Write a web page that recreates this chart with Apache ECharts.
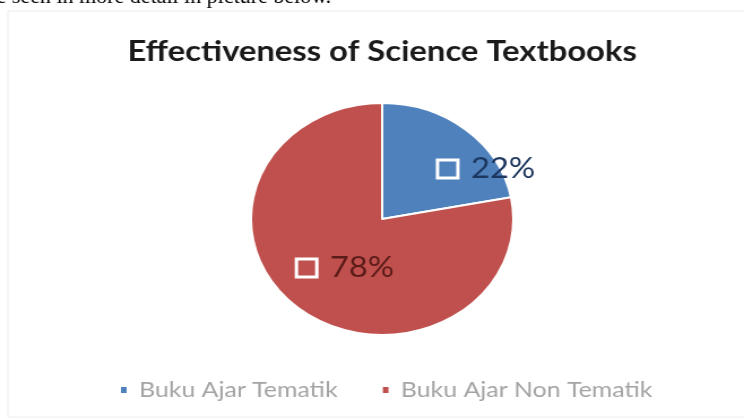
<!DOCTYPE html>
<html>
<head>
<meta charset="utf-8">
<script src="https://cdn.jsdelivr.net/npm/echarts@6/dist/echarts.min.js"></script>
<style>
html,body{margin:0;padding:0;background:#fff;}
#wrap{position:absolute;left:0;top:0;width:744px;height:419px;overflow:hidden;background:#fff;}
#c{width:658px;height:419px;transform:scaleX(1.130699);transform-origin:0 0;}
</style>
</head>
<body>
<div id="wrap"><div id="c"></div></div>
<script>
// ---- data ----
const titleText = 'Effectiveness of Science Textbooks';
const captionText = 'e seen in more detail in picture below.';
const categories = ['Buku Ajar Tematik', 'Buku Ajar Non Tematik'];
const values = [22, 78];

// ---- styling ----
const S = 1.130699;
const sliceColors = ['#4F81BD', '#C0504D'];
const labelColors = ['#1C365E', '#5A1B19'];
const labelOffsets = [[54, -3], [7, 2]];

const chart = echarts.init(document.getElementById('c'), null, {renderer: 'canvas'});

const data = categories.map((name, i) => ({
  name: name,
  value: values[i],
  itemStyle: {color: sliceColors[i]},
  label: {
    offset: labelOffsets[i],
    rich: {
      box: {width: 15, height: 15, backgroundColor: sliceColors[i], borderColor: '#fff', borderWidth: 3},
      v: {color: labelColors[i], fontSize: 29, fontFamily: 'Lato', padding: [0, 0, 0, 13]}
    }
  }
}));

chart.setOption({
  backgroundColor: '#fff',
  animation: false,
  title: {
    text: titleText,
    left: 333,
    top: 32,
    textAlign: 'center',
    textStyle: {fontFamily: 'Lato', fontWeight: 'bold', fontSize: 29, color: '#1a1a1a'}
  },
  legend: {
    data: categories,
    left: 100,
    top: 374,
    icon: 'rect',
    itemWidth: 7,
    itemHeight: 8,
    itemGap: 38,
    textStyle: {fontFamily: 'Lato', fontSize: 22, color: '#a4a4a4', padding: [0, 0, 0, 5]}
  },
  graphic: [
    {
      type: 'rect',
      silent: true,
      shape: {x: 7, y: 11, width: 700, height: 406},
      style: {fill: 'none', stroke: '#ececec', lineWidth: 1}
    },
    {
      type: 'text',
      silent: true,
      x: -3,
      y: 8,
      scaleX: 1 / S,
      style: {
        text: captionText,
        font: '22px "Liberation Serif", "Times New Roman", serif',
        fill: '#000',
        textVerticalAlign: 'bottom'
      }
    }
  ],
  series: [{
    type: 'pie',
    center: [338, 219],
    radius: [0, 116],
    startAngle: 90,
    clockwise: true,
    itemStyle: {borderColor: '#fff', borderWidth: 2},
    label: {
      show: true,
      position: 'inside',
      formatter: function (p) { return '{box|}{v|' + p.value + '%}'; }
    },
    labelLine: {show: false},
    emphasis: {disabled: true},
    data: data
  }]
});
</script>
</body>
</html>
